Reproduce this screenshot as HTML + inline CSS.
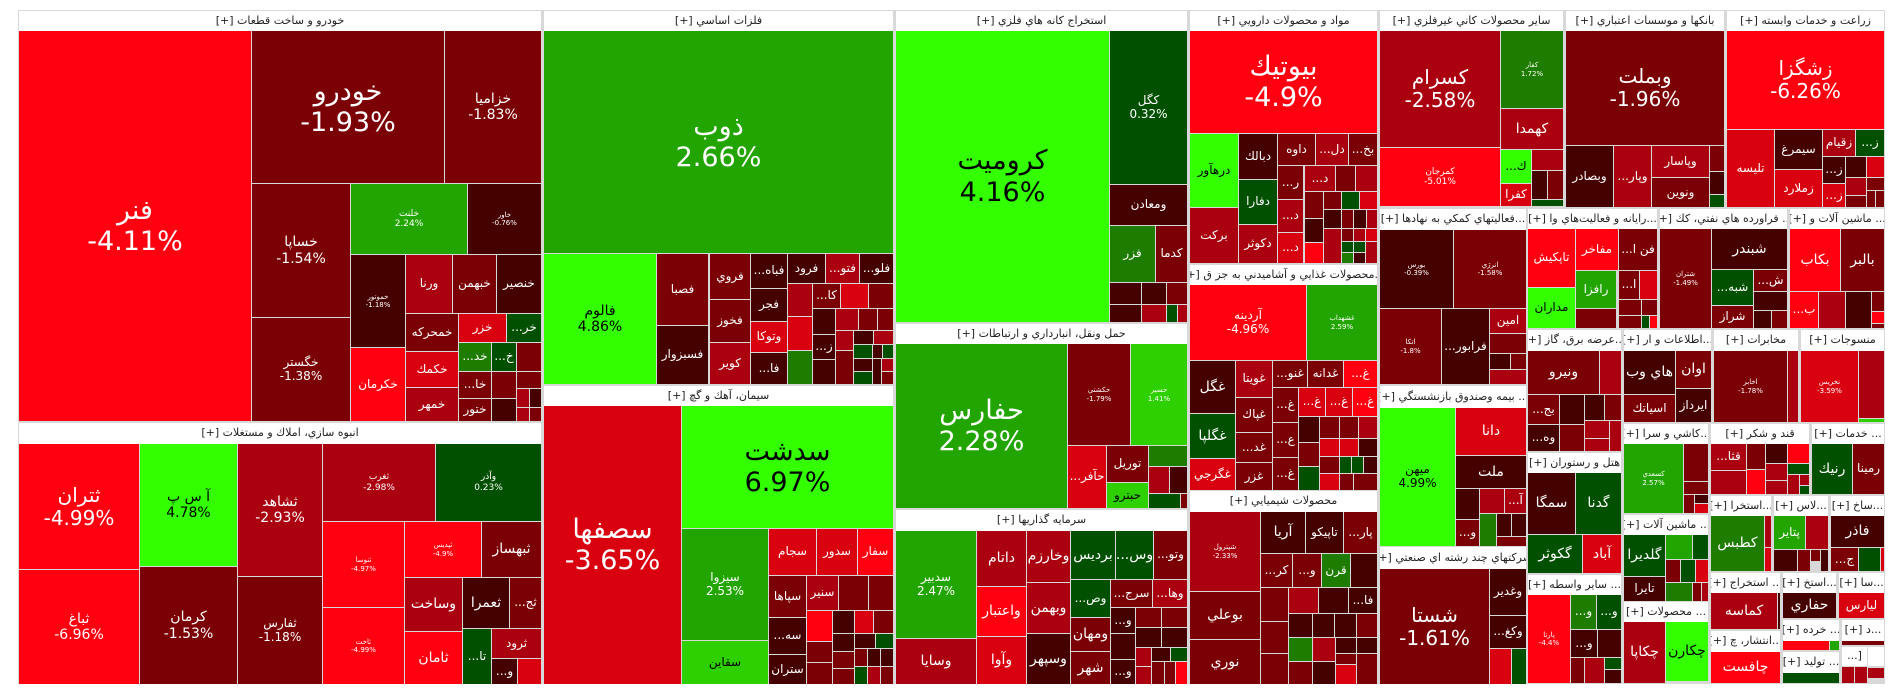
<!DOCTYPE html>
<html><head><meta charset="utf-8">
<style>
html,body{margin:0;padding:0;background:#fff;}
body{width:1904px;height:698px;position:relative;overflow:hidden;font-family:"DejaVu Sans","Liberation Sans",sans-serif;}
#f{position:absolute;left:18px;top:10px;width:1867px;height:674px;background:#d8d8d8;}
.t,.h{position:absolute;box-sizing:border-box;display:flex;flex-direction:column;align-items:center;justify-content:center;text-align:center;overflow:hidden;color:#fff;font-size:12px;line-height:1.15;white-space:nowrap;}
.h{background:#fff;color:#222;font-size:11px;direction:rtl;}
.t b,.t i{display:block;font-weight:normal;font-style:normal;}
.t b{direction:rtl}.t i{direction:ltr}
.a{background:#ff0010}.b{background:#d90010}.c{background:#aa0010}.d{background:#7a0005}.e{background:#450000}
.L{background:#33ff00;color:#000}.g{background:#22a500}.q{background:#1e7d00}.k{background:#005000}.m{background:#2ed000}
.s1{font-size:27px}.s2{font-size:20px}.s3{font-size:14px}.s5{font-size:7px}
</style></head><body>
<div id="f"></div>

<!-- Sector headers -->
<div class="h" style="left:19px;top:11px;width:522px;height:20px">خودرو و ساخت قطعات [+]</div>
<div class="h" style="left:19px;top:423px;width:522px;height:21px">انبوه سازي، املاك و مستغلات [+]</div>
<div class="h" style="left:544px;top:11px;width:349px;height:20px">فلزات اساسي [+]</div>
<div class="h" style="left:544px;top:386px;width:349px;height:20px">سيمان، آهك و گچ [+]</div>
<div class="h" style="left:896px;top:11px;width:291px;height:20px">استخراج كانه هاي فلزي [+]</div>
<div class="h" style="left:896px;top:324px;width:291px;height:20px">حمل ونقل، انبارداري و ارتباطات [+]</div>
<div class="h" style="left:896px;top:510px;width:291px;height:21px">سرمايه گذاريها [+]</div>
<div class="h" style="left:1190px;top:11px;width:187px;height:20px">مواد و محصولات دارويي [+]</div>
<div class="h" style="left:1190px;top:265px;width:187px;height:20px">...محصولات غذايي و آشاميدني به جز ق [+]</div>
<div class="h" style="left:1190px;top:491px;width:187px;height:21px">محصولات شيميايي [+]</div>
<div class="h" style="left:1380px;top:11px;width:183px;height:20px">ساير محصولات كاني غيرفلزي [+]</div>
<div class="h" style="left:1380px;top:209px;width:146px;height:21px">...فعاليتهاي كمكي به نهادها [+]</div>
<div class="h" style="left:1380px;top:386px;width:146px;height:22px">... بيمه وصندوق بازنشستگي [+]</div>
<div class="h" style="left:1380px;top:547px;width:146px;height:22px">شركتهاي چند رشته اي صنعتي [+]</div>
<div class="h" style="left:1566px;top:11px;width:158px;height:20px">بانكها و موسسات اعتباري [+]</div>
<div class="h" style="left:1727px;top:11px;width:157px;height:20px">زراعت و خدمات وابسته [+]</div>
<div class="h" style="left:1528px;top:209px;width:129px;height:20px">...رايانه و فعاليت‌هاي وا [+]</div>
<div class="h" style="left:1660px;top:209px;width:127px;height:20px">... فراورده هاي نفتي، كك [+]</div>
<div class="h" style="left:1790px;top:209px;width:94px;height:20px">... ماشين آلات و [+]</div>
<div class="h" style="left:1528px;top:330px;width:93px;height:21px">...عرضه برق، گاز [+]</div>
<div class="h" style="left:1624px;top:330px;width:87px;height:21px">...اطلاعات و ار [+]</div>
<div class="h" style="left:1714px;top:330px;width:84px;height:21px">مخابرات [+]</div>
<div class="h" style="left:1801px;top:330px;width:83px;height:21px">منسوجات [+]</div>
<div class="h" style="left:1624px;top:424px;width:84px;height:20px">...كاشي و سرا [+]</div>
<div class="h" style="left:1711px;top:424px;width:98px;height:20px">قند و شكر [+]</div>
<div class="h" style="left:1812px;top:424px;width:72px;height:20px">... خدمات [+]</div>
<div class="h" style="left:1528px;top:453px;width:93px;height:20px">هتل و رستوران [+]</div>
<div class="h" style="left:1624px;top:515px;width:84px;height:20px">... ماشين آلات [+]</div>
<div class="h" style="left:1711px;top:496px;width:60px;height:20px">...استخرا [+]</div>
<div class="h" style="left:1774px;top:496px;width:54px;height:20px">...لاس [+]</div>
<div class="h" style="left:1831px;top:496px;width:53px;height:20px">...ساخ [+]</div>
<div class="h" style="left:1528px;top:575px;width:93px;height:20px">... ساير واسطه [+]</div>
<div class="h" style="left:1624px;top:602px;width:84px;height:20px">... محصولات [+]</div>
<div class="h" style="left:1711px;top:573px;width:69px;height:20px">... استخراج [+]</div>
<div class="h" style="left:1711px;top:631px;width:69px;height:21px">...انتشار، چ [+]</div>
<div class="h" style="left:1783px;top:573px;width:53px;height:20px">...استخ [+]</div>
<div class="h" style="left:1839px;top:573px;width:45px;height:20px">...سا [+]</div>
<div class="h" style="left:1783px;top:620px;width:56px;height:21px">... خرده [+]</div>
<div class="h" style="left:1842px;top:620px;width:42px;height:21px">...د [+]</div>
<div class="h" style="left:1783px;top:652px;width:56px;height:21px">... توليد [+]</div>
<div class="h" style="left:1842px;top:647px;width:25px;height:19px">[...</div>
<div class="h" style="left:1868px;top:647px;width:16px;height:19px"></div>

<!-- خودرو -->
<div class="t a s1" style="left:19px;top:31px;width:232px;height:390px"><b>فنر</b><i>-4.11%</i></div>
<div class="t d s1" style="left:252px;top:31px;width:192px;height:152px"><b>خودرو</b><i>-1.93%</i></div>
<div class="t d s3" style="left:445px;top:31px;width:96px;height:152px"><b>خزاميا</b><i>-1.83%</i></div>
<div class="t d s3" style="left:252px;top:184px;width:98px;height:133px"><b>خساپا</b><i>-1.54%</i></div>
<div class="t d" style="left:252px;top:318px;width:98px;height:103px"><b>خگستر</b><i>-1.38%</i></div>
<div class="t g" style="left:351px;top:184px;width:116px;height:70px;font-size:9px"><b>خلنت</b><i>2.24%</i></div>
<div class="t e s5" style="left:468px;top:184px;width:73px;height:70px"><b>خاور</b><i>-0.76%</i></div>
<div class="t e s5" style="left:351px;top:255px;width:54px;height:92px"><b>خموتور</b><i>-1.18%</i></div>
<div class="t c" style="left:406px;top:255px;width:46px;height:58px"><b>ورنا</b></div>
<div class="t d" style="left:453px;top:255px;width:43px;height:58px"><b>خبهمن</b></div>
<div class="t e" style="left:497px;top:255px;width:44px;height:58px"><b>خنصير</b></div>
<div class="t d" style="left:406px;top:314px;width:52px;height:37px"><b>خمحركه</b></div>
<div class="t b" style="left:459px;top:314px;width:47px;height:28px"><b>خزر</b></div>
<div class="t k" style="left:507px;top:314px;width:34px;height:28px"><b>خر...</b></div>
<div class="t a" style="left:351px;top:348px;width:54px;height:73px"><b>خكرمان</b></div>
<div class="t b" style="left:406px;top:352px;width:52px;height:35px"><b>خكمك</b></div>
<div class="t c" style="left:406px;top:388px;width:52px;height:33px"><b>خمهر</b></div>
<div class="t q" style="left:459px;top:343px;width:32px;height:28px"><b>خد...</b></div>
<div class="t k" style="left:492px;top:343px;width:24px;height:28px"><b>خ...</b></div>
<div class="t d" style="left:517px;top:343px;width:24px;height:28px"></div>
<div class="t d" style="left:459px;top:372px;width:32px;height:26px"><b>خا...</b></div>
<div class="t d" style="left:459px;top:399px;width:32px;height:22px"><b>ختور</b></div>
<div class="t d" style="left:492px;top:372px;width:24px;height:26px"></div>
<div class="t d" style="left:517px;top:372px;width:24px;height:16px"></div>
<div class="t c" style="left:517px;top:389px;width:12px;height:18px"></div>
<div class="t e" style="left:530px;top:389px;width:11px;height:18px"></div>
<div class="t e" style="left:492px;top:399px;width:24px;height:22px"></div>
<div class="t c" style="left:517px;top:408px;width:12px;height:13px"></div>
<div class="t d" style="left:530px;top:408px;width:11px;height:13px"></div>

<!-- انبوه -->
<div class="t a s2" style="left:19px;top:444px;width:120px;height:125px"><b>ثتران</b><i>-4.99%</i></div>
<div class="t a s3" style="left:19px;top:570px;width:120px;height:114px"><b>ثباغ</b><i>-6.96%</i></div>
<div class="t L s3" style="left:140px;top:444px;width:97px;height:122px"><b>آ س پ</b><i>4.78%</i></div>
<div class="t d s3" style="left:140px;top:567px;width:97px;height:117px"><b>كرمان</b><i>-1.53%</i></div>
<div class="t c s3" style="left:238px;top:444px;width:84px;height:132px"><b>ثشاهد</b><i>-2.93%</i></div>
<div class="t d" style="left:238px;top:577px;width:84px;height:107px"><b>ثفارس</b><i>-1.18%</i></div>
<div class="t c" style="left:323px;top:444px;width:112px;height:77px;font-size:9px"><b>ثغرب</b><i>-2.98%</i></div>
<div class="t k" style="left:436px;top:444px;width:105px;height:77px;font-size:9px"><b>وآذر</b><i>0.23%</i></div>
<div class="t a s5" style="left:323px;top:522px;width:81px;height:85px"><b>ثنوسا</b><i>-4.97%</i></div>
<div class="t a s5" style="left:323px;top:608px;width:81px;height:76px"><b>ثاخت</b><i>-4.99%</i></div>
<div class="t a s5" style="left:405px;top:522px;width:76px;height:55px"><b>ثپديس</b><i>-4.9%</i></div>
<div class="t d s3" style="left:482px;top:522px;width:59px;height:55px"><b>ثبهساز</b></div>
<div class="t c s3" style="left:405px;top:578px;width:57px;height:53px"><b>وساخت</b></div>
<div class="t e s3" style="left:463px;top:578px;width:46px;height:50px"><b>ثعمرا</b></div>
<div class="t d" style="left:510px;top:578px;width:31px;height:50px"><b>ثج...</b></div>
<div class="t a s3" style="left:405px;top:632px;width:57px;height:52px"><b>ثامان</b></div>
<div class="t k" style="left:463px;top:629px;width:28px;height:55px"><b>تا...</b></div>
<div class="t c" style="left:492px;top:629px;width:49px;height:29px"><b>ثرود</b></div>
<div class="t e" style="left:492px;top:659px;width:25px;height:25px"><b>و...</b></div>
<div class="t b" style="left:518px;top:659px;width:23px;height:25px"></div>

<!-- فلزات -->
<div class="t g s1" style="left:544px;top:31px;width:349px;height:222px"><b>ذوب</b><i>2.66%</i></div>
<div class="t L s3" style="left:544px;top:254px;width:112px;height:130px"><b>فالوم</b><i>4.86%</i></div>
<div class="t d" style="left:657px;top:254px;width:51px;height:71px"><b>فصبا</b></div>
<div class="t e" style="left:657px;top:326px;width:51px;height:58px"><b>فسبزوار</b></div>
<div class="t d" style="left:710px;top:254px;width:40px;height:45px"><b>فروي</b></div>
<div class="t d" style="left:710px;top:300px;width:40px;height:42px"><b>فخوز</b></div>
<div class="t c" style="left:710px;top:343px;width:40px;height:41px"><b>كوير</b></div>
<div class="t e" style="left:751px;top:254px;width:36px;height:34px"><b>فباه...</b></div>
<div class="t e" style="left:751px;top:289px;width:36px;height:32px"><b>فجر</b></div>
<div class="t b" style="left:751px;top:322px;width:36px;height:30px"><b>وتوكا</b></div>
<div class="t e" style="left:751px;top:353px;width:36px;height:31px"><b>فا...</b></div>
<div class="t e" style="left:788px;top:254px;width:37px;height:29px"><b>فرود</b></div>
<div class="t c" style="left:826px;top:254px;width:33px;height:29px"><b>فتو...</b></div>
<div class="t e" style="left:860px;top:254px;width:33px;height:29px"><b>فلو...</b></div>
<div class="t c" style="left:788px;top:284px;width:24px;height:32px"></div>
<div class="t b" style="left:788px;top:317px;width:24px;height:33px"></div>
<div class="t q" style="left:788px;top:351px;width:24px;height:33px"></div>
<div class="t d" style="left:813px;top:284px;width:27px;height:24px"><b>كا...</b></div>
<div class="t b" style="left:841px;top:284px;width:27px;height:24px"></div>
<div class="t d" style="left:869px;top:284px;width:24px;height:24px"></div>
<div class="t e" style="left:813px;top:309px;width:22px;height:25px"></div>
<div class="t e" style="left:813px;top:335px;width:22px;height:24px"><b>ز...</b></div>
<div class="t e" style="left:813px;top:360px;width:22px;height:24px"></div>
<div class="t c" style="left:836px;top:309px;width:22px;height:21px"></div>
<div class="t d" style="left:859px;top:309px;width:18px;height:21px"></div>
<div class="t d" style="left:878px;top:309px;width:15px;height:21px"></div>
<div class="t c" style="left:836px;top:331px;width:17px;height:19px"></div>
<div class="t e" style="left:854px;top:331px;width:19px;height:13px"></div>
<div class="t c" style="left:874px;top:331px;width:19px;height:13px"></div>
<div class="t k" style="left:854px;top:345px;width:18px;height:13px"></div>
<div class="t e" style="left:873px;top:345px;width:9px;height:13px"></div>
<div class="t k" style="left:883px;top:345px;width:10px;height:13px"></div>
<div class="t d" style="left:836px;top:351px;width:17px;height:33px"></div>
<div class="t e" style="left:854px;top:359px;width:18px;height:12px"></div>
<div class="t k" style="left:854px;top:372px;width:18px;height:12px"></div>
<div class="t e" style="left:873px;top:359px;width:8px;height:25px"></div>
<div class="t c" style="left:882px;top:359px;width:11px;height:12px"></div>
<div class="t d" style="left:882px;top:372px;width:11px;height:12px"></div>

<!-- سیمان -->
<div class="t b s1" style="left:544px;top:406px;width:137px;height:278px"><b>سصفها</b><i>-3.65%</i></div>
<div class="t L s1" style="left:682px;top:406px;width:211px;height:122px"><b>سدشت</b><i>6.97%</i></div>
<div class="t g" style="left:682px;top:529px;width:86px;height:111px"><b>سيزوا</b><i>2.53%</i></div>
<div class="t m" style="left:682px;top:641px;width:86px;height:43px;color:#000"><b>سقاين</b></div>
<div class="t b" style="left:769px;top:529px;width:47px;height:46px"><b>سجام</b></div>
<div class="t b" style="left:817px;top:529px;width:40px;height:46px"><b>سدور</b></div>
<div class="t a" style="left:858px;top:529px;width:35px;height:46px"><b>سفار</b></div>
<div class="t d" style="left:769px;top:576px;width:37px;height:41px"><b>سپاها</b></div>
<div class="t c" style="left:807px;top:576px;width:31px;height:34px"><b>سنير</b></div>
<div class="t d" style="left:839px;top:576px;width:29px;height:34px"></div>
<div class="t d" style="left:869px;top:576px;width:24px;height:34px"></div>
<div class="t e" style="left:769px;top:618px;width:37px;height:36px"><b>سه...</b></div>
<div class="t e" style="left:769px;top:655px;width:37px;height:29px"><b>ستران</b></div>
<div class="t a" style="left:807px;top:611px;width:25px;height:30px"></div>
<div class="t d" style="left:807px;top:642px;width:25px;height:20px"></div>
<div class="t d" style="left:807px;top:663px;width:25px;height:21px"></div>
<div class="t e" style="left:833px;top:611px;width:21px;height:22px"></div>
<div class="t b" style="left:855px;top:611px;width:18px;height:22px"></div>
<div class="t d" style="left:874px;top:611px;width:19px;height:22px"></div>
<div class="t e" style="left:833px;top:634px;width:21px;height:17px"></div>
<div class="t e" style="left:855px;top:634px;width:20px;height:14px"></div>
<div class="t k" style="left:876px;top:634px;width:17px;height:14px"></div>
<div class="t d" style="left:833px;top:652px;width:21px;height:16px"></div>
<div class="t d" style="left:833px;top:669px;width:21px;height:15px"></div>
<div class="t d" style="left:855px;top:649px;width:12px;height:17px"></div>
<div class="t e" style="left:868px;top:649px;width:12px;height:17px"></div>
<div class="t e" style="left:881px;top:649px;width:12px;height:17px"></div>
<div class="t k" style="left:855px;top:667px;width:12px;height:17px"></div>
<div class="t c" style="left:868px;top:667px;width:12px;height:17px"></div>
<div class="t d" style="left:881px;top:667px;width:12px;height:17px"></div>

<!-- استخراج -->
<div class="t L s1" style="left:896px;top:31px;width:213px;height:291px"><b>كروميت</b><i>4.16%</i></div>
<div class="t k" style="left:1110px;top:31px;width:77px;height:153px"><b>كگل</b><i>0.32%</i></div>
<div class="t e" style="left:1110px;top:185px;width:77px;height:40px"><b>ومعادن</b></div>
<div class="t q" style="left:1110px;top:226px;width:45px;height:56px"><b>فزر</b></div>
<div class="t d" style="left:1156px;top:226px;width:31px;height:56px"><b>كدما</b></div>
<div class="t e" style="left:1110px;top:283px;width:31px;height:21px"></div>
<div class="t e" style="left:1142px;top:283px;width:24px;height:21px"></div>
<div class="t d" style="left:1167px;top:283px;width:20px;height:21px"></div>
<div class="t e" style="left:1110px;top:305px;width:31px;height:17px"></div>
<div class="t c" style="left:1142px;top:305px;width:24px;height:17px"></div>
<div class="t k" style="left:1167px;top:305px;width:10px;height:17px"></div>
<div class="t c" style="left:1178px;top:305px;width:9px;height:17px"></div>

<!-- حمل و نقل -->
<div class="t g s1" style="left:896px;top:344px;width:171px;height:164px"><b>حفارس</b><i>2.28%</i></div>
<div class="t d s5" style="left:1068px;top:344px;width:62px;height:101px"><b>حكشتي</b><i>-1.79%</i></div>
<div class="t m s5" style="left:1131px;top:344px;width:56px;height:101px"><b>حسير</b><i>1.41%</i></div>
<div class="t b" style="left:1068px;top:446px;width:38px;height:62px"><b>حآفر...</b></div>
<div class="t d" style="left:1107px;top:446px;width:41px;height:36px"><b>توريل</b></div>
<div class="t m" style="left:1107px;top:483px;width:41px;height:25px;color:#000"><b>حبترو</b></div>
<div class="t q" style="left:1149px;top:446px;width:38px;height:20px"></div>
<div class="t c" style="left:1149px;top:467px;width:20px;height:26px"></div>
<div class="t e" style="left:1170px;top:467px;width:17px;height:26px"></div>
<div class="t k" style="left:1149px;top:494px;width:31px;height:14px"></div>
<div class="t d" style="left:1181px;top:494px;width:6px;height:14px"></div>

<!-- سرمایه گذاریها -->
<div class="t g" style="left:896px;top:531px;width:80px;height:107px"><b>سدبير</b><i>2.47%</i></div>
<div class="t c s3" style="left:896px;top:639px;width:80px;height:45px"><b>وسايا</b></div>
<div class="t c s3" style="left:977px;top:531px;width:49px;height:55px"><b>داتام</b></div>
<div class="t a s3" style="left:977px;top:587px;width:49px;height:49px"><b>واعتبار</b></div>
<div class="t b s3" style="left:977px;top:637px;width:49px;height:47px"><b>وآوا</b></div>
<div class="t c s3" style="left:1027px;top:531px;width:43px;height:51px"><b>وخارزم</b></div>
<div class="t c s3" style="left:1027px;top:583px;width:43px;height:50px"><b>وبهمن</b></div>
<div class="t e s3" style="left:1027px;top:634px;width:43px;height:50px"><b>وسپهر</b></div>
<div class="t k s3" style="left:1071px;top:531px;width:44px;height:48px"><b>برديس</b></div>
<div class="t k s3" style="left:1116px;top:531px;width:37px;height:48px"><b>وس...</b></div>
<div class="t d" style="left:1154px;top:531px;width:33px;height:48px"><b>وتو...</b></div>
<div class="t k" style="left:1071px;top:580px;width:39px;height:37px"><b>وص...</b></div>
<div class="t d" style="left:1111px;top:580px;width:41px;height:27px"><b>سرج...</b></div>
<div class="t c" style="left:1153px;top:580px;width:34px;height:27px"><b>وها...</b></div>
<div class="t d s3" style="left:1071px;top:618px;width:39px;height:33px"><b>ومهان</b></div>
<div class="t d s3" style="left:1071px;top:652px;width:39px;height:32px"><b>شهر</b></div>
<div class="t e" style="left:1111px;top:608px;width:24px;height:25px"><b>و...</b></div>
<div class="t d" style="left:1136px;top:608px;width:25px;height:19px"></div>
<div class="t d" style="left:1162px;top:608px;width:25px;height:19px"></div>
<div class="t e" style="left:1111px;top:634px;width:24px;height:25px"></div>
<div class="t e" style="left:1136px;top:628px;width:25px;height:19px"></div>
<div class="t e" style="left:1162px;top:628px;width:25px;height:19px"></div>
<div class="t e" style="left:1111px;top:660px;width:24px;height:24px"><b>و...</b></div>
<div class="t c" style="left:1136px;top:648px;width:15px;height:18px"></div>
<div class="t e" style="left:1152px;top:648px;width:18px;height:13px"></div>
<div class="t k" style="left:1171px;top:648px;width:16px;height:13px"></div>
<div class="t c" style="left:1136px;top:667px;width:15px;height:17px"></div>
<div class="t d" style="left:1152px;top:662px;width:12px;height:22px"></div>
<div class="t d" style="left:1165px;top:662px;width:10px;height:22px"></div>
<div class="t a" style="left:1176px;top:662px;width:11px;height:22px"></div>

<!-- دارویی -->
<div class="t a s1" style="left:1190px;top:31px;width:187px;height:102px"><b>بيوتيك</b><i>-4.9%</i></div>
<div class="t L" style="left:1190px;top:134px;width:48px;height:73px"><b>درهآور</b></div>
<div class="t c" style="left:1190px;top:208px;width:48px;height:55px"><b>بركت</b></div>
<div class="t e" style="left:1239px;top:134px;width:38px;height:45px"><b>دبالك</b></div>
<div class="t k" style="left:1239px;top:180px;width:38px;height:44px"><b>دفارا</b></div>
<div class="t c" style="left:1239px;top:225px;width:38px;height:38px"><b>دكوثر</b></div>
<div class="t d" style="left:1278px;top:134px;width:37px;height:31px"><b>داوه</b></div>
<div class="t c" style="left:1316px;top:134px;width:32px;height:31px"><b>دل...</b></div>
<div class="t d" style="left:1349px;top:134px;width:28px;height:31px"><b>بخ...</b></div>
<div class="t d" style="left:1278px;top:166px;width:25px;height:33px"><b>ر...</b></div>
<div class="t c" style="left:1278px;top:200px;width:25px;height:32px"><b>د...</b></div>
<div class="t b" style="left:1278px;top:233px;width:25px;height:30px"><b>د...</b></div>
<div class="t c" style="left:1305px;top:166px;width:30px;height:25px"><b>د...</b></div>
<div class="t d" style="left:1336px;top:166px;width:19px;height:25px"></div>
<div class="t c" style="left:1356px;top:166px;width:21px;height:25px"></div>
<div class="t d" style="left:1305px;top:192px;width:18px;height:26px"></div>
<div class="t e" style="left:1305px;top:219px;width:18px;height:23px"></div>
<div class="t a" style="left:1305px;top:243px;width:18px;height:20px"></div>
<div class="t d" style="left:1324px;top:192px;width:17px;height:17px"></div>
<div class="t k" style="left:1342px;top:192px;width:17px;height:17px"></div>
<div class="t b" style="left:1360px;top:192px;width:17px;height:17px"></div>
<div class="t e" style="left:1324px;top:210px;width:17px;height:18px"></div>
<div class="t d" style="left:1342px;top:210px;width:11px;height:18px"></div>
<div class="t e" style="left:1354px;top:210px;width:12px;height:18px"></div>
<div class="t c" style="left:1367px;top:210px;width:10px;height:18px"></div>
<div class="t c" style="left:1324px;top:229px;width:17px;height:34px"></div>
<div class="t d" style="left:1342px;top:229px;width:11px;height:12px"></div>
<div class="t c" style="left:1354px;top:229px;width:11px;height:12px"></div>
<div class="t b" style="left:1366px;top:229px;width:11px;height:12px"></div>
<div class="t k" style="left:1342px;top:242px;width:11px;height:10px"></div>
<div class="t q" style="left:1342px;top:253px;width:11px;height:10px"></div>
<div class="t k" style="left:1354px;top:242px;width:11px;height:10px"></div>
<div class="t e" style="left:1354px;top:253px;width:11px;height:10px"></div>
<div class="t c" style="left:1366px;top:242px;width:11px;height:21px"></div>

<!-- غذایی -->
<div class="t a" style="left:1190px;top:285px;width:116px;height:75px"><b>آردينه</b><i>-4.96%</i></div>
<div class="t g s5" style="left:1307px;top:285px;width:70px;height:75px"><b>غشهداب</b><i>2.59%</i></div>
<div class="t e s3" style="left:1190px;top:361px;width:45px;height:52px"><b>غگل</b></div>
<div class="t k s3" style="left:1190px;top:414px;width:45px;height:44px"><b>غگلپا</b></div>
<div class="t b" style="left:1190px;top:459px;width:45px;height:31px"><b>غگرجي</b></div>
<div class="t c" style="left:1236px;top:361px;width:36px;height:36px"><b>غويتا</b></div>
<div class="t d" style="left:1236px;top:398px;width:36px;height:34px"><b>غپاك</b></div>
<div class="t d" style="left:1236px;top:433px;width:36px;height:29px"><b>غد...</b></div>
<div class="t d" style="left:1236px;top:463px;width:36px;height:27px"><b>غزر</b></div>
<div class="t d" style="left:1273px;top:361px;width:34px;height:26px"><b>غنو...</b></div>
<div class="t d" style="left:1308px;top:361px;width:35px;height:26px"><b>غدانه</b></div>
<div class="t a" style="left:1344px;top:361px;width:33px;height:26px"><b>غ...</b></div>
<div class="t d" style="left:1273px;top:388px;width:25px;height:34px"><b>غ...</b></div>
<div class="t b" style="left:1299px;top:388px;width:26px;height:28px"><b>غ...</b></div>
<div class="t b" style="left:1326px;top:388px;width:26px;height:28px"><b>غ...</b></div>
<div class="t a" style="left:1353px;top:388px;width:24px;height:28px"><b>غ...</b></div>
<div class="t d" style="left:1273px;top:423px;width:25px;height:34px"><b>ع...</b></div>
<div class="t d" style="left:1273px;top:458px;width:25px;height:32px"><b>غ...</b></div>
<div class="t e" style="left:1299px;top:417px;width:20px;height:25px"></div>
<div class="t d" style="left:1299px;top:443px;width:20px;height:23px"></div>
<div class="t k" style="left:1299px;top:467px;width:20px;height:23px"></div>
<div class="t d" style="left:1320px;top:417px;width:19px;height:21px"></div>
<div class="t d" style="left:1340px;top:417px;width:18px;height:21px"></div>
<div class="t c" style="left:1359px;top:417px;width:18px;height:21px"></div>
<div class="t b" style="left:1320px;top:439px;width:19px;height:17px"></div>
<div class="t b" style="left:1340px;top:439px;width:18px;height:17px"></div>
<div class="t e" style="left:1359px;top:439px;width:18px;height:17px"></div>
<div class="t d" style="left:1320px;top:457px;width:19px;height:16px"></div>
<div class="t k" style="left:1340px;top:457px;width:11px;height:16px"></div>
<div class="t k" style="left:1352px;top:457px;width:11px;height:16px"></div>
<div class="t e" style="left:1364px;top:457px;width:13px;height:16px"></div>
<div class="t b" style="left:1320px;top:474px;width:19px;height:16px"></div>
<div class="t d" style="left:1340px;top:474px;width:13px;height:16px"></div>
<div class="t d" style="left:1354px;top:474px;width:23px;height:16px"></div>

<!-- شیمیایی -->
<div class="t c s5" style="left:1190px;top:512px;width:70px;height:79px"><b>شپترول</b><i>-2.33%</i></div>
<div class="t d s3" style="left:1190px;top:592px;width:70px;height:47px"><b>بوعلي</b></div>
<div class="t d s3" style="left:1190px;top:640px;width:70px;height:44px"><b>نوري</b></div>
<div class="t e s3" style="left:1261px;top:512px;width:44px;height:41px"><b>آريا</b></div>
<div class="t e" style="left:1306px;top:512px;width:37px;height:41px"><b>تاپيكو</b></div>
<div class="t d" style="left:1344px;top:512px;width:33px;height:41px"><b>پار...</b></div>
<div class="t d" style="left:1261px;top:554px;width:31px;height:33px"><b>كر...</b></div>
<div class="t d" style="left:1293px;top:554px;width:28px;height:33px"><b>و...</b></div>
<div class="t q" style="left:1322px;top:554px;width:28px;height:33px"><b>قرن</b></div>
<div class="t e" style="left:1351px;top:554px;width:26px;height:33px"></div>
<div class="t d" style="left:1261px;top:588px;width:27px;height:33px"></div>
<div class="t c" style="left:1289px;top:588px;width:29px;height:25px"></div>
<div class="t e" style="left:1319px;top:588px;width:29px;height:25px"></div>
<div class="t e" style="left:1349px;top:588px;width:28px;height:25px"><b>فا...</b></div>
<div class="t d" style="left:1261px;top:622px;width:27px;height:31px"></div>
<div class="t d" style="left:1261px;top:654px;width:27px;height:30px"></div>
<div class="t e" style="left:1289px;top:614px;width:23px;height:23px"></div>
<div class="t e" style="left:1313px;top:614px;width:21px;height:23px"></div>
<div class="t e" style="left:1335px;top:614px;width:21px;height:23px"></div>
<div class="t d" style="left:1357px;top:614px;width:20px;height:23px"></div>
<div class="t q" style="left:1289px;top:638px;width:23px;height:23px"></div>
<div class="t c" style="left:1313px;top:638px;width:22px;height:23px"></div>
<div class="t e" style="left:1336px;top:638px;width:20px;height:15px"></div>
<div class="t e" style="left:1357px;top:638px;width:20px;height:15px"></div>
<div class="t d" style="left:1289px;top:662px;width:23px;height:22px"></div>
<div class="t e" style="left:1313px;top:662px;width:22px;height:22px"></div>
<div class="t b" style="left:1336px;top:665px;width:20px;height:19px"></div>
<div class="t d" style="left:1336px;top:654px;width:20px;height:10px"></div>
<div class="t d" style="left:1357px;top:654px;width:20px;height:30px"></div>

<!-- کانی غیرفلزی -->
<div class="t c s2" style="left:1380px;top:31px;width:120px;height:116px"><b>كسرام</b><i>-2.58%</i></div>
<div class="t q s5" style="left:1501px;top:31px;width:62px;height:77px"><b>كفار</b><i>1.72%</i></div>
<div class="t c s3" style="left:1501px;top:109px;width:62px;height:40px"><b>كهمدا</b></div>
<div class="t a" style="left:1380px;top:148px;width:120px;height:58px;font-size:9px"><b>كمرجان</b><i>-5.01%</i></div>
<div class="t L" style="left:1501px;top:150px;width:30px;height:33px"><b>ك...</b></div>
<div class="t b" style="left:1501px;top:184px;width:30px;height:22px"><b>كفرا</b></div>
<div class="t c" style="left:1532px;top:150px;width:31px;height:20px"></div>
<div class="t e" style="left:1532px;top:171px;width:15px;height:28px"></div>
<div class="t d" style="left:1548px;top:171px;width:15px;height:28px"></div>
<div class="t k" style="left:1532px;top:200px;width:31px;height:6px"></div>

<!-- کمکی -->
<div class="t e s5" style="left:1380px;top:230px;width:73px;height:78px"><b>بورس</b><i>-0.39%</i></div>
<div class="t d s5" style="left:1454px;top:230px;width:72px;height:78px"><b>انرژي</b><i>-1.58%</i></div>
<div class="t d s5" style="left:1380px;top:309px;width:61px;height:75px"><b>اتكا</b><i>-1.8%</i></div>
<div class="t e" style="left:1442px;top:309px;width:47px;height:75px"><b>فرابور...</b></div>
<div class="t c" style="left:1490px;top:309px;width:36px;height:24px"><b>امين</b></div>
<div class="t d" style="left:1490px;top:334px;width:36px;height:19px"></div>
<div class="t e" style="left:1490px;top:354px;width:20px;height:15px"></div>
<div class="t d" style="left:1511px;top:354px;width:15px;height:15px"></div>
<div class="t c" style="left:1490px;top:370px;width:36px;height:14px"></div>

<!-- بیمه -->
<div class="t L" style="left:1380px;top:408px;width:75px;height:138px"><b>ميهن</b><i>4.99%</i></div>
<div class="t b s3" style="left:1456px;top:408px;width:70px;height:47px"><b>دانا</b></div>
<div class="t e s3" style="left:1456px;top:456px;width:70px;height:32px"><b>ملت</b></div>
<div class="t e" style="left:1456px;top:489px;width:23px;height:30px"></div>
<div class="t d" style="left:1456px;top:520px;width:23px;height:26px"><b>و...</b></div>
<div class="t c" style="left:1480px;top:489px;width:24px;height:24px"></div>
<div class="t c" style="left:1505px;top:489px;width:21px;height:24px"><b>آ...</b></div>
<div class="t q" style="left:1480px;top:514px;width:16px;height:32px"></div>
<div class="t e" style="left:1497px;top:514px;width:14px;height:22px"></div>
<div class="t e" style="left:1512px;top:514px;width:14px;height:22px"></div>
<div class="t d" style="left:1497px;top:537px;width:29px;height:9px"></div>

<!-- چند رشته -->
<div class="t d s2" style="left:1380px;top:569px;width:109px;height:115px"><b>شستا</b><i>-1.61%</i></div>
<div class="t e" style="left:1490px;top:569px;width:36px;height:46px"><b>وغدير</b></div>
<div class="t e" style="left:1490px;top:616px;width:36px;height:32px"><b>وكغ...</b></div>
<div class="t b" style="left:1490px;top:649px;width:21px;height:35px"></div>
<div class="t k" style="left:1512px;top:649px;width:14px;height:35px"></div>

<!-- بانکها -->
<div class="t d s2" style="left:1566px;top:31px;width:158px;height:114px"><b>وبملت</b><i>-1.96%</i></div>
<div class="t e" style="left:1566px;top:146px;width:47px;height:61px"><b>وبصادر</b></div>
<div class="t c" style="left:1614px;top:146px;width:37px;height:61px"><b>وپار...</b></div>
<div class="t c" style="left:1652px;top:146px;width:57px;height:31px"><b>وپاسار</b></div>
<div class="t d" style="left:1652px;top:178px;width:57px;height:29px"><b>ونوين</b></div>
<div class="t d" style="left:1710px;top:146px;width:14px;height:25px"></div>
<div class="t e" style="left:1710px;top:172px;width:14px;height:22px"></div>
<div class="t k" style="left:1710px;top:195px;width:14px;height:12px"></div>

<!-- زراعت -->
<div class="t a s2" style="left:1727px;top:31px;width:157px;height:98px"><b>زشگزا</b><i>-6.26%</i></div>
<div class="t b" style="left:1727px;top:130px;width:47px;height:77px"><b>تليسه</b></div>
<div class="t e" style="left:1775px;top:130px;width:47px;height:39px"><b>سيمرغ</b></div>
<div class="t b" style="left:1775px;top:170px;width:47px;height:37px"><b>زملارد</b></div>
<div class="t c" style="left:1823px;top:130px;width:32px;height:26px"><b>زقيام</b></div>
<div class="t k" style="left:1856px;top:130px;width:28px;height:26px"><b>ز...</b></div>
<div class="t e" style="left:1823px;top:157px;width:22px;height:26px"><b>ز...</b></div>
<div class="t b" style="left:1823px;top:184px;width:22px;height:23px"><b>ز...</b></div>
<div class="t e" style="left:1846px;top:157px;width:20px;height:20px"></div>
<div class="t b" style="left:1867px;top:157px;width:17px;height:20px"></div>
<div class="t c" style="left:1846px;top:178px;width:20px;height:17px"></div>
<div class="t d" style="left:1867px;top:178px;width:17px;height:12px"></div>
<div class="t d" style="left:1846px;top:196px;width:20px;height:11px"></div>
<div class="t d" style="left:1867px;top:191px;width:8px;height:16px"></div>
<div class="t d" style="left:1876px;top:191px;width:8px;height:16px"></div>

<!-- رایانه -->
<div class="t a" style="left:1528px;top:229px;width:47px;height:58px"><b>تاپكيش</b></div>
<div class="t L" style="left:1528px;top:288px;width:47px;height:40px"><b>مداران</b></div>
<div class="t a" style="left:1576px;top:229px;width:42px;height:41px"><b>مفاخر</b></div>
<div class="t g" style="left:1576px;top:271px;width:40px;height:37px"><b>رافزا</b></div>
<div class="t d" style="left:1576px;top:309px;width:40px;height:19px"></div>
<div class="t d" style="left:1619px;top:229px;width:38px;height:41px"><b>فن ا...</b></div>
<div class="t d" style="left:1619px;top:271px;width:20px;height:28px"><b>ا...</b></div>
<div class="t b" style="left:1640px;top:271px;width:17px;height:28px"></div>
<div class="t d" style="left:1619px;top:300px;width:22px;height:15px"></div>
<div class="t d" style="left:1642px;top:300px;width:15px;height:15px"></div>
<div class="t d" style="left:1619px;top:316px;width:22px;height:12px"></div>
<div class="t k" style="left:1642px;top:316px;width:7px;height:12px"></div>
<div class="t a" style="left:1650px;top:316px;width:7px;height:12px"></div>

<!-- فراورده نفتی -->
<div class="t d s5" style="left:1660px;top:229px;width:51px;height:99px"><b>شتران</b><i>-1.49%</i></div>
<div class="t e s3" style="left:1712px;top:229px;width:75px;height:40px"><b>شبندر</b></div>
<div class="t k" style="left:1712px;top:270px;width:41px;height:35px"><b>شبه...</b></div>
<div class="t d" style="left:1754px;top:270px;width:33px;height:21px"><b>ش...</b></div>
<div class="t e" style="left:1754px;top:292px;width:33px;height:18px"></div>
<div class="t d" style="left:1712px;top:306px;width:41px;height:22px"><b>شراز</b></div>
<div class="t e" style="left:1754px;top:311px;width:17px;height:17px"></div>
<div class="t d" style="left:1772px;top:311px;width:15px;height:17px"></div>

<!-- ماشین آلات و -->
<div class="t a s3" style="left:1790px;top:229px;width:50px;height:62px"><b>بكاب</b></div>
<div class="t d s3" style="left:1841px;top:229px;width:43px;height:62px"><b>بالبر</b></div>
<div class="t a" style="left:1790px;top:292px;width:28px;height:36px"><b>ب...</b></div>
<div class="t c" style="left:1819px;top:292px;width:26px;height:36px"></div>
<div class="t e" style="left:1846px;top:292px;width:25px;height:36px"></div>
<div class="t d" style="left:1872px;top:292px;width:12px;height:19px"></div>
<div class="t a" style="left:1872px;top:312px;width:12px;height:11px"></div>
<div class="t d" style="left:1872px;top:324px;width:12px;height:4px"></div>

<!-- عرضه برق -->
<div class="t d s3" style="left:1528px;top:351px;width:71px;height:43px"><b>ونيرو</b></div>
<div class="t c" style="left:1600px;top:351px;width:21px;height:43px"></div>
<div class="t d" style="left:1528px;top:395px;width:31px;height:29px"><b>بج...</b></div>
<div class="t e" style="left:1528px;top:425px;width:31px;height:26px"><b>وه...</b></div>
<div class="t e" style="left:1560px;top:395px;width:24px;height:29px"></div>
<div class="t e" style="left:1585px;top:395px;width:19px;height:25px"></div>
<div class="t d" style="left:1605px;top:395px;width:16px;height:25px"></div>
<div class="t d" style="left:1560px;top:425px;width:24px;height:26px"></div>
<div class="t c" style="left:1585px;top:421px;width:24px;height:17px"></div>
<div class="t c" style="left:1585px;top:439px;width:24px;height:12px"></div>
<div class="t c" style="left:1610px;top:421px;width:11px;height:30px"></div>

<!-- اطلاعات -->
<div class="t e s3" style="left:1624px;top:351px;width:51px;height:43px"><b>هاي وب</b></div>
<div class="t d s3" style="left:1676px;top:351px;width:35px;height:37px"><b>اوان</b></div>
<div class="t d" style="left:1624px;top:395px;width:51px;height:27px"><b>اسياتك</b></div>
<div class="t e" style="left:1676px;top:389px;width:35px;height:33px"><b>ايرداز</b></div>

<!-- مخابرات / منسوجات -->
<div class="t d s5" style="left:1714px;top:351px;width:73px;height:71px"><b>اخابر</b><i>-1.78%</i></div>
<div class="t c" style="left:1788px;top:351px;width:10px;height:71px"></div>
<div class="t b s5" style="left:1801px;top:351px;width:57px;height:71px"><b>نخريس</b><i>-3.59%</i></div>
<div class="t c" style="left:1859px;top:351px;width:25px;height:67px"></div>
<div class="t m" style="left:1859px;top:419px;width:25px;height:3px"></div>

<!-- کاشی -->
<div class="t g s5" style="left:1624px;top:444px;width:59px;height:69px"><b>كسعدي</b><i>2.57%</i></div>
<div class="t d" style="left:1684px;top:444px;width:24px;height:37px"></div>
<div class="t d" style="left:1684px;top:482px;width:24px;height:12px"></div>
<div class="t d" style="left:1684px;top:495px;width:10px;height:18px"></div>
<div class="t e" style="left:1695px;top:495px;width:13px;height:8px"></div>
<div class="t b" style="left:1695px;top:504px;width:13px;height:9px"></div>

<!-- قند -->
<div class="t c" style="left:1711px;top:444px;width:35px;height:26px"><b>قثا...</b></div>
<div class="t c" style="left:1711px;top:471px;width:35px;height:23px"></div>
<div class="t d" style="left:1747px;top:444px;width:18px;height:25px"></div>
<div class="t a" style="left:1747px;top:470px;width:18px;height:24px"></div>
<div class="t e" style="left:1766px;top:444px;width:21px;height:19px"></div>
<div class="t c" style="left:1766px;top:464px;width:21px;height:16px"></div>
<div class="t c" style="left:1766px;top:481px;width:21px;height:13px"></div>
<div class="t a" style="left:1788px;top:444px;width:21px;height:19px"></div>
<div class="t k" style="left:1788px;top:464px;width:21px;height:10px"></div>
<div class="t c" style="left:1788px;top:475px;width:11px;height:19px"></div>
<div class="t c" style="left:1800px;top:475px;width:9px;height:10px"></div>
<div class="t k" style="left:1800px;top:486px;width:9px;height:8px"></div>

<!-- خدمات -->
<div class="t k s3" style="left:1812px;top:444px;width:40px;height:50px"><b>رنيك</b></div>
<div class="t d" style="left:1853px;top:444px;width:31px;height:50px"><b>رمينا</b></div>

<!-- هتل -->
<div class="t e s3" style="left:1528px;top:473px;width:47px;height:61px"><b>سمگا</b></div>
<div class="t k s3" style="left:1576px;top:473px;width:45px;height:61px"><b>گدنا</b></div>
<div class="t k s3" style="left:1528px;top:535px;width:54px;height:38px"><b>گكوثر</b></div>
<div class="t b s3" style="left:1583px;top:535px;width:38px;height:38px"><b>آباد</b></div>

<!-- ماشین آلات -->
<div class="t k s3" style="left:1624px;top:535px;width:41px;height:41px"><b>گلديرا</b></div>
<div class="t e" style="left:1624px;top:577px;width:41px;height:24px"><b>تايرا</b></div>
<div class="t g" style="left:1666px;top:535px;width:26px;height:24px"></div>
<div class="t k" style="left:1693px;top:535px;width:15px;height:24px"></div>
<div class="t d" style="left:1666px;top:560px;width:14px;height:22px"></div>
<div class="t k" style="left:1681px;top:560px;width:14px;height:22px"></div>
<div class="t b" style="left:1696px;top:560px;width:12px;height:22px"></div>
<div class="t q" style="left:1666px;top:583px;width:26px;height:18px"></div>
<div class="t d" style="left:1693px;top:583px;width:8px;height:18px"></div>
<div class="t c" style="left:1702px;top:583px;width:6px;height:18px"></div>

<!-- استخرا / لاس / ساخ -->
<div class="t q s3" style="left:1711px;top:516px;width:53px;height:55px"><b>كطبس</b></div>
<div class="t c" style="left:1765px;top:516px;width:6px;height:31px"></div>
<div class="t b" style="left:1765px;top:548px;width:6px;height:23px"></div>
<div class="t g" style="left:1774px;top:516px;width:31px;height:33px"><b>پتاير</b></div>
<div class="t c" style="left:1806px;top:516px;width:22px;height:33px"></div>
<div class="t e" style="left:1774px;top:550px;width:23px;height:21px"></div>
<div class="t d" style="left:1798px;top:550px;width:12px;height:21px"></div>
<div class="t d" style="left:1811px;top:550px;width:9px;height:11px"></div>
<div class="t e" style="left:1821px;top:550px;width:7px;height:21px"></div>
<div class="t e s3" style="left:1831px;top:516px;width:53px;height:31px"><b>فاذر</b></div>
<div class="t d" style="left:1831px;top:548px;width:27px;height:23px"><b>ج...</b></div>
<div class="t k" style="left:1859px;top:548px;width:21px;height:23px"></div>
<div class="t b" style="left:1881px;top:548px;width:3px;height:23px"></div>

<!-- سایر واسطه -->
<div class="t a s5" style="left:1528px;top:595px;width:42px;height:88px"><b>پارتا</b><i>-4.4%</i></div>
<div class="t q" style="left:1571px;top:595px;width:25px;height:34px"><b>و...</b></div>
<div class="t k" style="left:1597px;top:595px;width:24px;height:34px"><b>و...</b></div>
<div class="t e" style="left:1571px;top:630px;width:26px;height:27px"><b>و...</b></div>
<div class="t e" style="left:1598px;top:630px;width:23px;height:27px"></div>
<div class="t d" style="left:1571px;top:658px;width:13px;height:25px"></div>
<div class="t c" style="left:1585px;top:658px;width:19px;height:25px"></div>
<div class="t k" style="left:1605px;top:658px;width:16px;height:11px"></div>
<div class="t e" style="left:1605px;top:670px;width:16px;height:13px"></div>

<!-- محصولات / استخراج / انتشار -->
<div class="t c s3" style="left:1624px;top:622px;width:41px;height:61px"><b>چكاپا</b></div>
<div class="t L s3" style="left:1666px;top:622px;width:42px;height:59px"><b>چكارن</b></div>
<div class="t c s3" style="left:1711px;top:593px;width:66px;height:36px"><b>كماسه</b></div>
<div class="t e" style="left:1778px;top:593px;width:2px;height:36px"></div>
<div class="t a s3" style="left:1711px;top:652px;width:69px;height:31px"><b>چافست</b></div>
<div class="t e s3" style="left:1783px;top:593px;width:53px;height:25px"><b>حفاري</b></div>
<div class="t b" style="left:1839px;top:593px;width:45px;height:25px"><b>ليارس</b></div>
<div class="t a" style="left:1783px;top:641px;width:46px;height:9px"></div>
<div class="t g" style="left:1830px;top:641px;width:9px;height:9px"></div>
<div class="t d" style="left:1842px;top:641px;width:42px;height:4px"></div>
<div class="t k" style="left:1783px;top:673px;width:56px;height:10px"></div>
<div class="t c" style="left:1842px;top:667px;width:12px;height:16px"></div>
<div class="t c" style="left:1855px;top:667px;width:12px;height:16px"></div>
<div class="t c" style="left:1868px;top:668px;width:16px;height:10px"></div>
</body></html>
